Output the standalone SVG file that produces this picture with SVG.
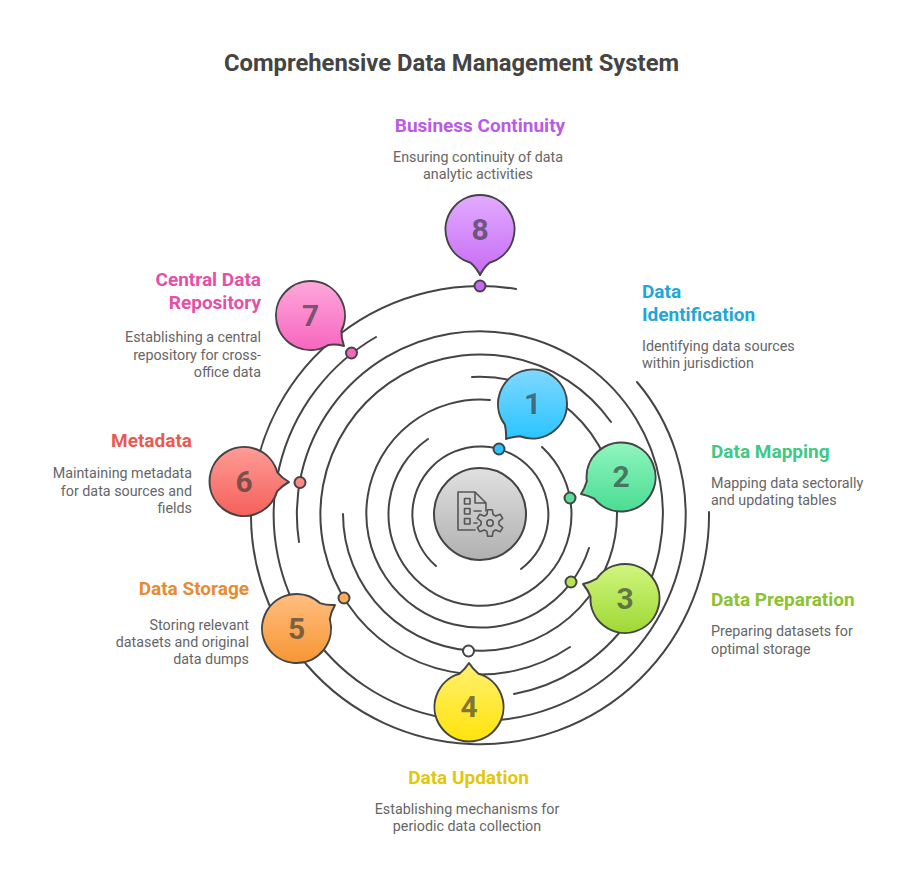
<svg xmlns="http://www.w3.org/2000/svg" width="903" height="892" viewBox="0 0 903 892">
<style>
text{font-family:Roboto,"Liberation Sans",sans-serif}
.title{font-size:23.8px;font-weight:700;fill:#444;text-anchor:middle}
.h{font-size:19px;font-weight:700}
.d{font-size:14.3px;fill:#666}
.s{text-anchor:start}.e{text-anchor:end}.m{text-anchor:middle}
.n{font-size:30px;font-weight:700;fill:#333;fill-opacity:.65;text-anchor:middle}
.ring{fill:none;stroke:#444;stroke-width:2;stroke-linecap:round}
.b,.dot,.hub{stroke:#444;stroke-width:2}
.b{stroke-linejoin:round}
.ic{fill:none;stroke:#555;stroke-width:1.6;stroke-linejoin:round;stroke-linecap:round}
</style>
<defs>
<linearGradient id="g1" x1="0" y1="0" x2="0" y2="1"><stop offset="0" stop-color="#80d8ff"/><stop offset="1" stop-color="#2ac4ff"/></linearGradient>
<linearGradient id="g2" x1="0" y1="0" x2="0" y2="1"><stop offset="0" stop-color="#8ff6bc"/><stop offset="1" stop-color="#4bdc94"/></linearGradient>
<linearGradient id="g3" x1="0" y1="0" x2="0" y2="1"><stop offset="0" stop-color="#d0f67e"/><stop offset="1" stop-color="#9fd835"/></linearGradient>
<linearGradient id="g4" x1="0" y1="0" x2="0" y2="1"><stop offset="0" stop-color="#fff070"/><stop offset="1" stop-color="#ffe40a"/></linearGradient>
<linearGradient id="g5" x1="0" y1="0" x2="0" y2="1"><stop offset="0" stop-color="#ffbe80"/><stop offset="1" stop-color="#f79633"/></linearGradient>
<linearGradient id="g6" x1="0" y1="0" x2="0" y2="1"><stop offset="0" stop-color="#ff9c96"/><stop offset="1" stop-color="#f5605a"/></linearGradient>
<linearGradient id="g7" x1="0" y1="0" x2="0" y2="1"><stop offset="0" stop-color="#ffa8dc"/><stop offset="1" stop-color="#f666be"/></linearGradient>
<linearGradient id="g8" x1="0" y1="0" x2="0" y2="1"><stop offset="0" stop-color="#e2acff"/><stop offset="1" stop-color="#c86af5"/></linearGradient>
<linearGradient id="g0" x1="0" y1="0" x2="0" y2="1"><stop offset="0" stop-color="#e0e0e0"/><stop offset="1" stop-color="#b0b0b0"/></linearGradient>
</defs>
<rect width="903" height="892" fill="#fff"/>
<text class="title" x="451.5" y="71">Comprehensive Data Management System</text>
<g id="connectors">
<path class="ring" d="M436,566 A68,68 0 1 1 521,569"/>
<path class="ring" d="M542,447 A91.5,91.5 0 1 1 428,439"/>
<path class="ring" d="M589,548 A114,114 0 1 1 490,400"/>
<path class="ring" d="M472,377 A137,137 0 1 1 343,514"/>
<path class="ring" d="M570,647 A160,160 0 1 1 611,422"/>
<path class="ring" d="M299,542 A183,183 0 1 1 514,694"/>
<path class="ring" d="M637,382 A206,206 0 1 1 376,337"/>
<path class="ring" d="M709,512 A229,229 0 1 1 516,289"/>
</g>
<g id="hub">
<circle class="hub" cx="480" cy="514" r="46" fill="url(#g0)"/>
<path class="ic" d="M475,492H458V530H475M475,492L486,503V511M475,492V503H486"/>
<rect class="ic" x="464.5" y="498.5" width="5.5" height="5.5"/>
<rect class="ic" x="464.5" y="508.5" width="5.5" height="5.5"/>
<rect class="ic" x="464.5" y="518.5" width="5.5" height="5.5"/>
<path class="ic" d="M474,511H481M474,523H477"/>
<path class="ic" d="M486.9,514.5L487.7,509.7H492.3L493.1,514.5L495.8,516.1L500.3,514.3L502.7,518.4L498.9,521.4V524.6L502.7,527.6L500.3,531.7L495.8,529.9L493.1,531.5L492.3,536.3H487.7L486.9,531.5L484.2,529.9L479.7,531.7L477.3,527.6L481.1,524.6V521.4L477.3,518.4L479.7,514.3L484.2,516.1Z"/>
<circle class="ic" cx="490" cy="523" r="3.2"/>
</g>
<g id="node1">
<circle class="dot" cx="499" cy="449" r="5.5" fill="#2ac4ff"/>
<path class="b" fill="url(#g1)" d="M504.9,424.7A34.5,34.5 0 1 1 520.1,436.2Q512.9,436.5 506,439Q506.5,431.7 504.9,424.7Z"/>
<text class="n" x="532.5" y="414">1</text>
<text class="h s" fill="#1ea7d8" x="642" y="298">Data</text>
<text class="h s" fill="#1ea7d8" x="642" y="321">Identification</text>
<text class="d s" x="642" y="351">Identifying data sources</text>
<text class="d s" x="642" y="368">within jurisdiction</text>
</g>
<g id="node2">
<circle class="dot" cx="570" cy="498" r="5.5" fill="#5ade9a"/>
<path class="b" fill="url(#g2)" d="M586.8,481.2A34.5,34.5 0 1 1 594.2,498.7Q587.8,495.4 581,494Q584.7,488.1 586.8,481.2Z"/>
<text class="n" x="621" y="487">2</text>
<text class="h s" fill="#3ec985" x="711" y="458">Data Mapping</text>
<text class="d s" x="711" y="488">Mapping data sectorally</text>
<text class="d s" x="711" y="505">and updating tables</text>
</g>
<g id="node3">
<circle class="dot" cx="571" cy="582" r="5.5" fill="#b5e64f"/>
<path class="b" fill="url(#g3)" d="M596.7,578.7A34.5,34.5 0 1 1 590.5,596.7Q588,590 583,584Q590.6,582.4 596.7,578.7Z"/>
<text class="n" x="625" y="609">3</text>
<text class="h s" fill="#8cc22e" x="711" y="606">Data Preparation</text>
<text class="d s" x="711" y="636">Preparing datasets for</text>
<text class="d s" x="711" y="654">optimal storage</text>
</g>
<g id="node4">
<circle class="dot" cx="468.5" cy="651" r="5.5" fill="#fff"/>
<path class="b" fill="url(#g4)" d="M478.5,673.8A34.5,34.5 0 1 1 459.5,673.8Q465,669.2 469,663Q473,669.2 478.5,673.8Z"/>
<text class="n" x="469" y="717">4</text>
<text class="h m" fill="#dfc80f" x="468.5" y="784">Data Updation</text>
<text class="d m" x="467" y="814">Establishing mechanisms for</text>
<text class="d m" x="467" y="831">periodic data collection</text>
</g>
<g id="node5">
<circle class="dot" cx="344" cy="598" r="5.5" fill="#fbac5c"/>
<path class="b" fill="url(#g5)" d="M329.8,619.3A34.5,34.5 0 1 1 319.9,603.1Q326.7,605.4 335,605Q330.8,612.2 329.8,619.3Z"/>
<text class="n" x="296.5" y="638.5">5</text>
<text class="h e" fill="#e88a30" x="249" y="595">Data Storage</text>
<text class="d e" x="249" y="630">Storing relevant</text>
<text class="d e" x="249" y="647">datasets and original</text>
<text class="d e" x="249" y="664">data dumps</text>
</g>
<g id="node6">
<circle class="dot" cx="300" cy="482.5" r="5.5" fill="#fb8a84"/>
<path class="b" fill="url(#g6)" d="M277.1,491.4A34.5,34.5 0 1 1 277.3,472.3Q281.8,477.9 289,482Q281.7,485.9 277.1,491.4Z"/>
<text class="n" x="244" y="491.5">6</text>
<text class="h e" fill="#ea5a54" x="192" y="447">Metadata</text>
<text class="d e" x="192" y="478">Maintaining metadata</text>
<text class="d e" x="192" y="496">for data sources and</text>
<text class="d e" x="192" y="513">fields</text>
</g>
<g id="node7">
<circle class="dot" cx="351.5" cy="353" r="5.5" fill="#f666be"/>
<path class="b" fill="url(#g7)" d="M328.6,344.9A34.5,34.5 0 1 1 341.4,330.8Q341.1,338 344,346Q335.8,343.9 328.6,344.9Z"/>
<text class="n" x="310.5" y="326">7</text>
<text class="h e" fill="#e64fa8" x="261" y="286">Central Data</text>
<text class="h e" fill="#e64fa8" x="261" y="309">Repository</text>
<text class="d e" x="261" y="342">Establishing a central</text>
<text class="d e" x="261" y="360">repository for cross-</text>
<text class="d e" x="261" y="377">office data</text>
</g>
<g id="node8">
<circle class="dot" cx="480" cy="286" r="5.5" fill="#c86af5"/>
<path class="b" fill="url(#g8)" d="M470.5,262.7A34.5,34.5 0 1 1 489.5,262.7Q484,267.3 480,275Q476,267.3 470.5,262.7Z"/>
<text class="n" x="480" y="240">8</text>
<text class="h m" fill="#b95be8" x="480" y="132">Business Continuity</text>
<text class="d m" x="478" y="162">Ensuring continuity of data</text>
<text class="d m" x="478" y="179">analytic activities</text>
</g>
</svg>
